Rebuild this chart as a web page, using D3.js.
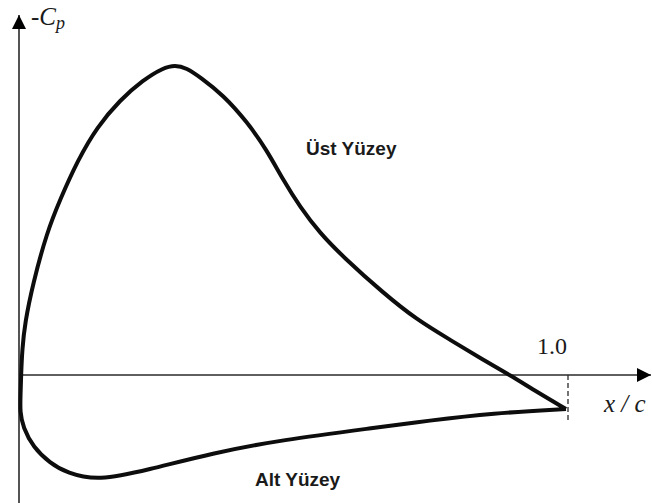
<!DOCTYPE html>
<html>
<head>
<meta charset="utf-8">
<script src="https://cdn.jsdelivr.net/npm/d3@7"></script>
<style>
  html, body { margin: 0; padding: 0; background: #fff; }
  svg { display: block; }
</style>
</head>
<body>
<svg id="chart" width="652" height="503"></svg>
<script>
// Pressure distribution (-Cp) over an airfoil chord, x/c from leading to trailing edge
const xUpper  = [0.000, 0.001, 0.002, 0.004, 0.009, 0.024, 0.049, 0.073, 0.106, 0.141, 0.183, 0.225, 0.262, 0.284, 0.305, 0.330, 0.372, 0.416, 0.452, 0.482, 0.513, 0.549, 0.592, 0.665, 0.727, 0.788, 0.848, 0.897, 0.947, 1.000];
const cpUpper = [-1.00, -0.54, 0.00, 0.68, 1.41, 2.49, 3.84, 4.73, 5.81, 6.70, 7.43, 7.97, 8.30, 8.38, 8.30, 8.05, 7.57, 6.84, 6.08, 5.27, 4.54, 3.84, 3.19, 2.22, 1.49, 0.95, 0.41, 0.00, -0.46, -0.92];
const xLower  = [0.000, 0.0055, 0.024, 0.055, 0.086, 0.143, 0.233, 0.353, 0.476, 0.659, 0.745, 0.866, 1.000];
const cpLower = [-1.00, -1.41, -1.95, -2.38, -2.65, -2.86, -2.57, -2.11, -1.76, -1.41, -1.24, -1.03, -0.92];
const xTickValues = [1.0];
const xTickLabels = ["1.0"];
const surfaceLabels = ["Üst Yüzey", "Alt Yüzey"];

const svg = d3.select("#chart");

const x = d3.scaleLinear().domain([0, 1]).range([20, 566]);
const y = d3.scaleLinear().domain([0, 1]).range([375, 338]);

const ink = "#0d0d0d";
const axisInk = "#2a2a2a";
const serif = "'Liberation Serif', 'Times New Roman', serif";
const sans = "'Liberation Sans', Arial, sans-serif";

// axes with arrowheads
const defs = svg.append("defs");
defs.append("marker")
  .attr("id", "arrow")
  .attr("viewBox", "0 0 14 14")
  .attr("refX", 14).attr("refY", 7)
  .attr("markerWidth", 14).attr("markerHeight", 14)
  .attr("markerUnits", "userSpaceOnUse")
  .attr("orient", "auto")
  .append("path")
  .attr("d", "M0,0 L14,7 L0,14 Z")
  .attr("fill", "#000");

const x0 = x(0) - 1;
svg.append("line")
  .attr("x1", x0).attr("y1", 503)
  .attr("x2", x0).attr("y2", 15)
  .attr("stroke", axisInk).attr("stroke-width", 1.6)
  .attr("marker-end", "url(#arrow)");

svg.append("line")
  .attr("x1", x0).attr("y1", y(0))
  .attr("x2", 651).attr("y2", y(0))
  .attr("stroke", axisInk).attr("stroke-width", 1.6)
  .attr("marker-end", "url(#arrow)");

// chord-end marker
xTickValues.forEach((v, i) => {
  svg.append("line")
    .attr("x1", x(v) + 2).attr("y1", y(0))
    .attr("x2", x(v) + 2).attr("y2", y(-1.25))
    .attr("stroke", axisInk).attr("stroke-width", 1.3)
    .attr("stroke-dasharray", "5,3");
  svg.append("text")
    .attr("x", x(v) - 14).attr("y", y(0) - 21)
    .attr("text-anchor", "middle")
    .attr("font-family", serif)
    .attr("font-size", 24)
    .attr("fill", "#1a1a1a")
    .text(xTickLabels[i]);
});

// axis titles
const yTitle = svg.append("text")
  .attr("x", 31).attr("y", 25)
  .attr("font-family", serif)
  .attr("font-style", "italic")
  .attr("font-size", 25)
  .attr("fill", "#1a1a1a");
yTitle.append("tspan").text("-C");
yTitle.append("tspan").attr("font-size", 18).attr("dy", 4).text("p");

svg.append("text")
  .attr("x", 604).attr("y", 412)
  .attr("font-family", serif)
  .attr("font-style", "italic")
  .attr("font-size", 25)
  .attr("fill", "#1a1a1a")
  .text("x / c");

// pressure curve: upper surface from trailing edge to leading edge, then lower surface back
const upper = xUpper.map((v, i) => [v, cpUpper[i]]);
const lower = xLower.map((v, i) => [v, cpLower[i]]);
const loop = upper.slice().reverse().concat(lower.slice(1));

const line = d3.line()
  .x(d => x(d[0]))
  .y(d => y(d[1]))
  .curve(d3.curveBasis);

svg.append("path")
  .datum(loop)
  .attr("d", line)
  .attr("fill", "none")
  .attr("stroke", ink)
  .attr("stroke-width", 4)
  .attr("stroke-linejoin", "miter")
  .attr("stroke-linecap", "butt");

// surface labels
svg.append("text")
  .attr("x", 306).attr("y", 155)
  .attr("font-family", sans)
  .attr("font-weight", "bold")
  .attr("font-size", 19)
  .attr("fill", "#1a1a1a")
  .text(surfaceLabels[0]);

svg.append("text")
  .attr("x", 255).attr("y", 486)
  .attr("font-family", sans)
  .attr("font-weight", "bold")
  .attr("font-size", 19)
  .attr("fill", "#1a1a1a")
  .text(surfaceLabels[1]);
</script>
</body>
</html>
